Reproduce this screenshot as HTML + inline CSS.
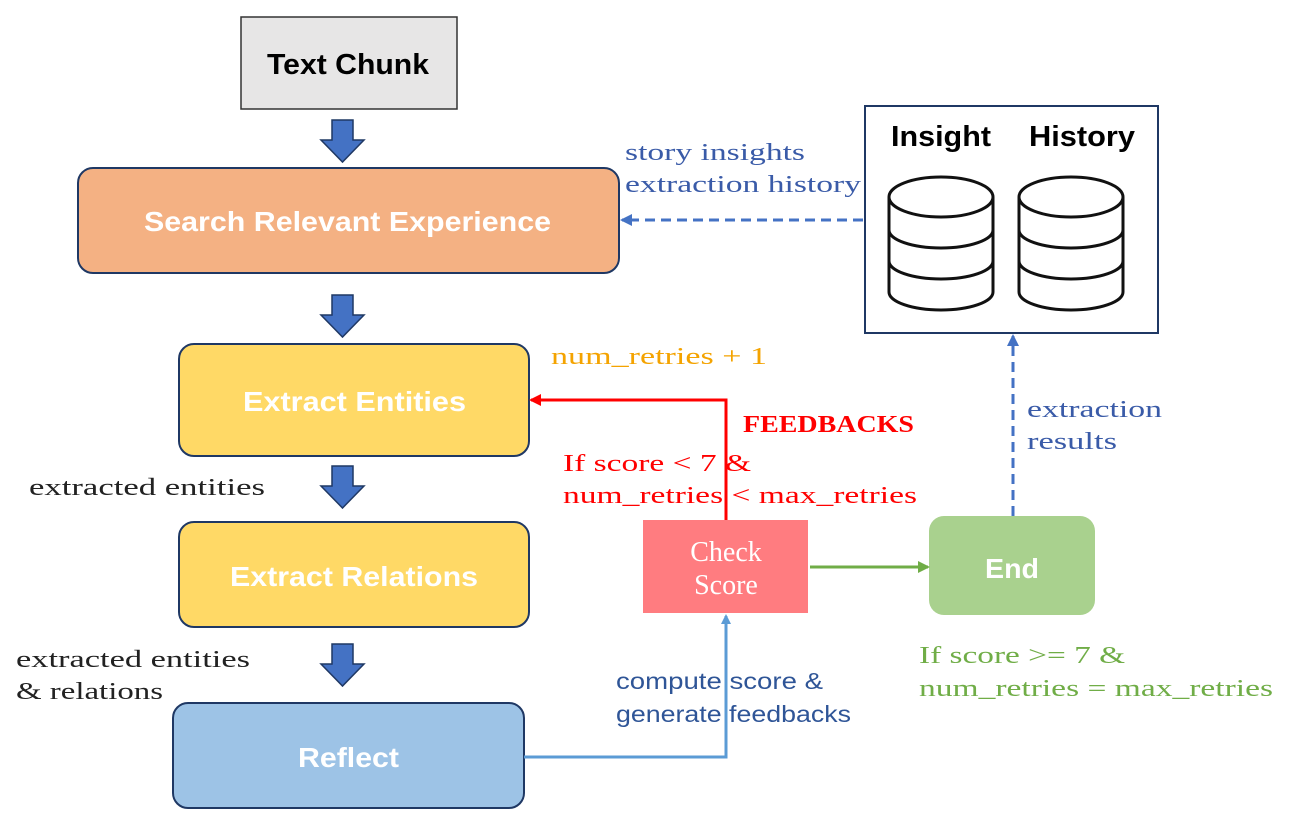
<!DOCTYPE html>
<html><head><meta charset="utf-8"><style>
html,body{margin:0;padding:0;background:#fff;}
svg{display:block;}
.b{font-family:"Liberation Sans",sans-serif;font-weight:bold;fill:#fff;font-size:28px;}
.s{font-family:"Liberation Serif",serif;font-size:24px;}
</style></head><body>
<svg width="1311" height="835" viewBox="0 0 1311 835" xmlns="http://www.w3.org/2000/svg">
<defs>
<marker id="mb" markerWidth="12" markerHeight="12" refX="10" refY="6" orient="auto" markerUnits="userSpaceOnUse"><path d="M0,0 L12,6 L0,12 z" fill="#4472c4"/></marker>
<marker id="ml" markerWidth="10" markerHeight="10" refX="8" refY="5" orient="auto" markerUnits="userSpaceOnUse"><path d="M0,0 L10,5 L0,10 z" fill="#5b9bd5"/></marker>
<marker id="mr" markerWidth="12" markerHeight="12" refX="10" refY="6" orient="auto" markerUnits="userSpaceOnUse"><path d="M0,0 L12,6 L0,12 z" fill="#ff0000"/></marker>
<marker id="mg" markerWidth="12" markerHeight="12" refX="10" refY="6" orient="auto" markerUnits="userSpaceOnUse"><path d="M0,0 L12,6 L0,12 z" fill="#70ad47"/></marker>
<path id="ba" d="M0,0 h21 v20 h11 l-21.5,22 l-21.5,-22 h11 z" fill="#4472c4" stroke="#1f3864" stroke-width="1.5"/>
</defs>
<rect x="241" y="17" width="216" height="92" fill="#e7e6e6" stroke="#333" stroke-width="1.5"/>
<text x="267" y="74" font-family="Liberation Sans,sans-serif" font-weight="bold" font-size="29" fill="#000" textLength="162" lengthAdjust="spacingAndGlyphs">Text Chunk</text>
<use href="#ba" x="332" y="120"/>
<use href="#ba" x="332" y="295"/>
<use href="#ba" x="332" y="466"/>
<use href="#ba" x="332" y="644"/>
<rect x="78" y="168" width="541" height="105" rx="15" fill="#f4b183" stroke="#1f3864" stroke-width="2"/>
<text class="b" x="144" y="231" textLength="407" lengthAdjust="spacingAndGlyphs">Search Relevant Experience</text>
<rect x="179" y="344" width="350" height="112" rx="15" fill="#ffd966" stroke="#1f3864" stroke-width="2"/>
<text class="b" x="243" y="411" textLength="223" lengthAdjust="spacingAndGlyphs">Extract Entities</text>
<rect x="179" y="522" width="350" height="105" rx="15" fill="#ffd966" stroke="#1f3864" stroke-width="2"/>
<text class="b" x="230" y="586" textLength="248" lengthAdjust="spacingAndGlyphs">Extract Relations</text>
<rect x="173" y="703" width="351" height="105" rx="15" fill="#9dc3e6" stroke="#1f3864" stroke-width="2"/>
<text class="b" x="298" y="767" textLength="101" lengthAdjust="spacingAndGlyphs">Reflect</text>
<rect x="643" y="520" width="165" height="93" fill="#ff7c80"/>
<text x="726" y="561" text-anchor="middle" font-family="Liberation Serif,serif" font-size="28" fill="#fff">Check</text>
<text x="726" y="594" text-anchor="middle" font-family="Liberation Serif,serif" font-size="28" fill="#fff">Score</text>
<rect x="929" y="516" width="166" height="99" rx="15" fill="#a9d18e"/>
<text class="b" x="985" y="578" textLength="54" lengthAdjust="spacingAndGlyphs">End</text>
<rect x="865" y="106" width="293" height="227" fill="#fff" stroke="#1f3864" stroke-width="2"/>
<text x="891" y="146" font-family="Liberation Sans,sans-serif" font-weight="bold" font-size="29" textLength="100" lengthAdjust="spacingAndGlyphs">Insight</text>
<text x="1029" y="146" font-family="Liberation Sans,sans-serif" font-weight="bold" font-size="29" textLength="106" lengthAdjust="spacingAndGlyphs">History</text>
<g fill="none" stroke="#111" stroke-width="3">
<ellipse cx="941" cy="197" rx="52" ry="20"/>
<path d="M889,197 V292 A52,18 0 0 0 993,292 V197"/>
<path d="M889,230 A52,18 0 0 0 993,230"/>
<path d="M889,261 A52,18 0 0 0 993,261"/>
<ellipse cx="1071" cy="197" rx="52" ry="20"/>
<path d="M1019,197 V292 A52,18 0 0 0 1123,292 V197"/>
<path d="M1019,230 A52,18 0 0 0 1123,230"/>
<path d="M1019,261 A52,18 0 0 0 1123,261"/>
</g>
<line x1="863" y1="220" x2="622" y2="220" stroke="#4472c4" stroke-width="3" stroke-dasharray="10,6" marker-end="url(#mb)"/>
<line x1="1013" y1="516" x2="1013" y2="336" stroke="#4472c4" stroke-width="3" stroke-dasharray="10,6" marker-end="url(#mb)"/>
<polyline points="726,520 726,400 531,400" fill="none" stroke="#ff0000" stroke-width="3" marker-end="url(#mr)"/>
<polyline points="524,757 726,757 726,616" fill="none" stroke="#5b9bd5" stroke-width="3" marker-end="url(#ml)"/>
<line x1="810" y1="567" x2="928" y2="567" stroke="#70ad47" stroke-width="3" marker-end="url(#mg)"/>
<g class="s" fill="#3a5ba8">
<text x="625" y="160" textLength="180" lengthAdjust="spacingAndGlyphs">story insights</text>
<text x="625" y="192" textLength="236" lengthAdjust="spacingAndGlyphs">extraction history</text>
<text x="1027" y="417" textLength="135" lengthAdjust="spacingAndGlyphs">extraction</text>
<text x="1027" y="449" textLength="90" lengthAdjust="spacingAndGlyphs">results</text>
</g>
<text class="s" x="551" y="364" fill="#f4a300" textLength="216" lengthAdjust="spacingAndGlyphs">num_retries + 1</text>
<text x="743" y="432" font-family="Liberation Serif,serif" font-weight="bold" font-size="24" fill="#ff0000" textLength="171" lengthAdjust="spacingAndGlyphs">FEEDBACKS</text>
<g class="s" fill="#ff0000">
<text x="563" y="471" textLength="188" lengthAdjust="spacingAndGlyphs">If score &lt; 7 &amp;</text>
<text x="563" y="503" textLength="354" lengthAdjust="spacingAndGlyphs">num_retries &lt; max_retries</text>
</g>
<g class="s" fill="#222">
<text x="29" y="495" textLength="236" lengthAdjust="spacingAndGlyphs">extracted entities</text>
<text x="16" y="667" textLength="234" lengthAdjust="spacingAndGlyphs">extracted entities</text>
<text x="16" y="699" textLength="147" lengthAdjust="spacingAndGlyphs">&amp; relations</text>
</g>
<g font-family="Liberation Sans,sans-serif" font-size="23" fill="#2f5597">
<text x="616" y="689" textLength="207" lengthAdjust="spacingAndGlyphs">compute score &amp;</text>
<text x="616" y="722" textLength="235" lengthAdjust="spacingAndGlyphs">generate feedbacks</text>
</g>
<g class="s" fill="#70ad47">
<text x="919" y="663" textLength="206" lengthAdjust="spacingAndGlyphs">If score &gt;= 7 &amp;</text>
<text x="919" y="696" textLength="354" lengthAdjust="spacingAndGlyphs">num_retries = max_retries</text>
</g>
</svg>
</body></html>
